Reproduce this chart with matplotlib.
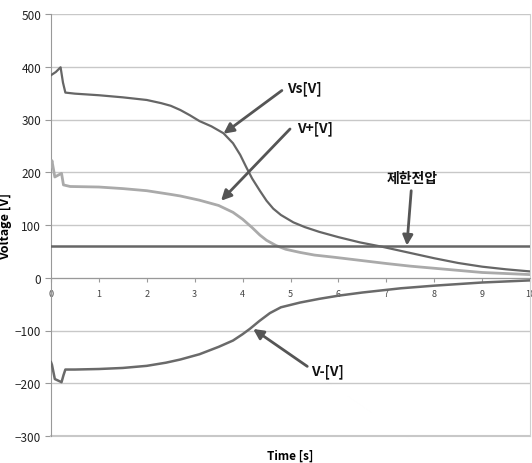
import numpy as np
import matplotlib
matplotlib.use("Agg")
import matplotlib.pyplot as plt

plt.rcParams['font.family'] = ['Noto Sans CJK KR', 'DejaVu Sans']

# data
t_vs = [0.0, 0.1, 0.2, 0.25, 0.3, 0.5, 1.0, 1.5, 2.0, 2.3, 2.5, 2.7, 2.9, 3.1, 3.35, 3.6, 3.8, 3.95, 4.08,
        4.2, 4.36, 4.5, 4.64, 4.8, 5.06, 5.3, 5.6, 6.0, 6.45, 6.9, 7.5, 8.0, 8.5, 9.0, 9.5, 10.0]
vs = [384, 390, 399, 370, 351, 349, 346, 342, 337, 331, 326, 318, 308, 297, 287, 274, 255, 233, 209,
      188, 165, 146, 131, 119, 105, 96, 87, 77, 67, 59, 47, 37, 28, 21, 16, 12]

t_vp = [0.0, 0.02, 0.08, 0.22, 0.26, 0.4, 1.0, 1.5, 2.0, 2.5, 2.7, 3.1, 3.5, 3.8, 4.0, 4.2, 4.36, 4.5, 4.7,
        4.9, 5.2, 5.5, 5.9, 6.45, 7.0, 7.5, 8.0, 8.5, 9.0, 9.5, 10.0]
vp = [210, 222, 191, 198, 176, 173, 172, 169, 165, 158, 155, 147, 137, 124, 111, 95, 81, 71, 61,
      54, 48, 43, 39, 33, 27, 22, 18, 14, 10, 8, 6]

t_vm = [0.0, 0.02, 0.08, 0.22, 0.26, 0.3, 0.5, 1.0, 1.5, 2.0, 2.4, 2.7, 3.1, 3.5, 3.8, 4.0, 4.15, 4.35,
        4.57, 4.8, 5.2, 5.6, 6.0, 6.5, 7.3, 8.0, 9.0, 10.0]
vm = [-160, -165, -192, -198, -185, -174, -174, -173, -171, -167, -161, -155, -145, -131, -119, -107, -97, -82,
      -67, -56, -47, -40, -34, -28, -20, -15, -9, -5]

limit_v = 60

fig = plt.figure(figsize=(5.32, 4.64), dpi=100)
ax = fig.add_axes([51/532, 27/464, 479/532, 422/464])

ax.plot(t_vs, vs, color='#666666', lw=1.6, zorder=3)
ax.plot(t_vp, vp, color='#aaaaaa', lw=2.0, zorder=3)
ax.plot(t_vm, vm, color='#6a6a6a', lw=1.8, zorder=3)
ax.plot([0, 10], [limit_v, limit_v], color='#666666', lw=1.8, zorder=3)

ax.set_xlim(0, 10)
ax.set_ylim(-300, 500)
ax.set_yticks(np.arange(-300, 501, 100))
ax.set_xticks(np.arange(0, 11, 1))
ax.grid(axis='y', color='#c8c8c8', lw=1.0)
ax.set_axisbelow(True)

ax.spines['top'].set_visible(False)
ax.spines['right'].set_color('#d0d0d0')
ax.spines['left'].set_color('#999999')
ax.spines['bottom'].set_position(('data', 0))
ax.spines['bottom'].set_color('#999999')
ax.axhline(-300, color='#c8c8c8', lw=1.5, clip_on=False)

ax.tick_params(axis='y', length=4, color='#999999', labelsize=8.5, labelcolor='#222222', pad=3)
ax.tick_params(axis='x', length=3, color='#999999', labelsize=6.5, labelcolor='#444444', pad=5)

ax.set_ylabel('Voltage [V]', fontsize=9, fontweight='bold', labelpad=2)
ax.set_xlabel('Time [s]', fontsize=8.5, fontweight='bold')
ax.xaxis.set_label_coords(0.5, -0.03)

arrow = dict(arrowstyle='-|>,head_length=0.6,head_width=0.3', color='#555555', lw=2, shrinkA=0, shrinkB=0)
ax.annotate('', xy=(3.6, 273), xytext=(4.82, 355), arrowprops=arrow)
ax.text(4.93, 360, 'Vs[V]', fontsize=10, fontweight='bold', ha='left', va='center', color='#111111')
ax.annotate('', xy=(3.55, 146), xytext=(4.99, 282), arrowprops=arrow)
ax.text(5.14, 285, 'V+[V]', fontsize=10, fontweight='bold', ha='left', va='center', color='#111111')
ax.annotate('', xy=(7.43, 61), xytext=(7.52, 165), arrowprops=arrow)
ax.text(7.55, 190, '제한전압', fontsize=10, fontweight='bold', ha='center', va='center', color='#111111')
ax.annotate('', xy=(4.22, -97), xytext=(5.35, -168), arrowprops=arrow)
ax.text(5.42, -176, 'V-[V]', fontsize=10, fontweight='bold', ha='left', va='center', color='#111111')

fig.savefig('out.png', dpi=100)
